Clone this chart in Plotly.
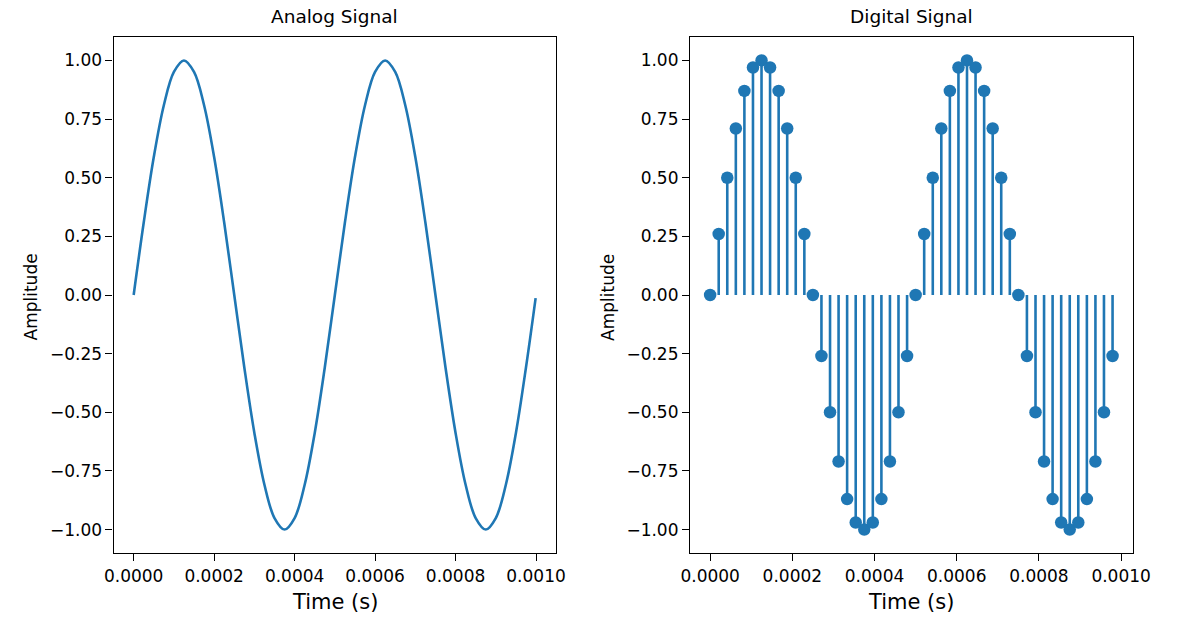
import plotly.graph_objects as go

# ---- data ----
analog_time = [0.0, 0.000025, 0.00005, 0.000075, 0.0001, 0.000125, 0.00015, 0.000175,
               0.0002, 0.000225, 0.00025, 0.000275, 0.0003, 0.000325, 0.00035, 0.000375,
               0.0004, 0.000425, 0.00045, 0.000475, 0.0005, 0.000525, 0.00055, 0.000575,
               0.0006, 0.000625, 0.00065, 0.000675, 0.0007, 0.000725, 0.00075, 0.000775,
               0.0008, 0.000825, 0.00085, 0.000875, 0.0009, 0.000925, 0.00095, 0.000975,
               0.000999]
analog_amp = [0.0, 0.309, 0.588, 0.809, 0.951, 1.0, 0.951, 0.809, 0.588, 0.309,
              0.0, -0.309, -0.588, -0.809, -0.951, -1.0, -0.951, -0.809, -0.588, -0.309,
              0.0, 0.309, 0.588, 0.809, 0.951, 1.0, 0.951, 0.809, 0.588, 0.309,
              0.0, -0.309, -0.588, -0.809, -0.951, -1.0, -0.951, -0.809, -0.588, -0.309,
              -0.013]

digital_time = [0.0, 2.083e-05, 4.167e-05, 6.25e-05, 8.333e-05, 0.0001042, 0.000125, 0.0001458,
                0.0001667, 0.0001875, 0.0002083, 0.0002292, 0.00025, 0.0002708, 0.0002917,
                0.0003125, 0.0003333, 0.0003542, 0.000375, 0.0003958, 0.0004167, 0.0004375,
                0.0004583, 0.0004792, 0.0005, 0.0005208, 0.0005417, 0.0005625, 0.0005833,
                0.0006042, 0.000625, 0.0006458, 0.0006667, 0.0006875, 0.0007083, 0.0007292,
                0.00075, 0.0007708, 0.0007917, 0.0008125, 0.0008333, 0.0008542, 0.000875,
                0.0008958, 0.0009167, 0.0009375, 0.0009583, 0.0009792]
digital_amp = [0.0, 0.26, 0.5, 0.71, 0.87, 0.97, 1.0, 0.97, 0.87, 0.71, 0.5, 0.26,
               0.0, -0.26, -0.5, -0.71, -0.87, -0.97, -1.0, -0.97, -0.87, -0.71, -0.5, -0.26,
               0.0, 0.26, 0.5, 0.71, 0.87, 0.97, 1.0, 0.97, 0.87, 0.71, 0.5, 0.26,
               0.0, -0.26, -0.5, -0.71, -0.87, -0.97, -1.0, -0.97, -0.87, -0.71, -0.5, -0.26]

y_tickvals = [1.0, 0.75, 0.5, 0.25, 0.0, -0.25, -0.5, -0.75, -1.0]
y_ticktext = ["1.00", "0.75", "0.50", "0.25", "0.00", "\u22120.25", "\u22120.50", "\u22120.75", "\u22121.00"]
x_tickvals = [0.0, 0.0002, 0.0004, 0.0006, 0.0008, 0.0010]
x_ticktext = ["0.0000", "0.0002", "0.0004", "0.0006", "0.0008", "0.0010"]

titles = ["Analog Signal", "Digital Signal"]
xlabel = "Time (s)"
ylabel = "Amplitude"

# ---- figure ----
W, H = 1177, 617
C0 = "#1f77b4"
FONT = "DejaVu Sans"


def px(x):
    return x / W


def py(y):
    return 1 - y / H


fig = go.Figure()

fig.add_trace(go.Scatter(x=analog_time, y=analog_amp, mode="lines",
                         line=dict(color=C0, width=2.6, shape="spline", smoothing=1.0),
                         xaxis="x", yaxis="y", showlegend=False, hoverinfo="skip"))

stem_x, stem_y = [], []
for t, v in zip(digital_time, digital_amp):
    stem_x += [t, t, None]
    stem_y += [0, v, None]
fig.add_trace(go.Scatter(x=stem_x, y=stem_y, mode="lines",
                         line=dict(color=C0, width=2.6),
                         xaxis="x2", yaxis="y2", showlegend=False, hoverinfo="skip"))
fig.add_trace(go.Scatter(x=digital_time, y=digital_amp, mode="markers",
                         marker=dict(color=C0, size=12.5, line=dict(width=0)),
                         xaxis="x2", yaxis="y2", showlegend=False))

dom_x1 = [px(107), px(560)]
dom_x2 = [px(697), px(1150)]
dom_y = [py(553), py(37)]

common = dict(showgrid=False, zeroline=False, showline=True, linecolor="black", linewidth=1.2,
              mirror=True, ticks="outside", ticklen=7, tickwidth=1.2, tickcolor="black",
              tickfont=dict(family=FONT, size=17, color="black"))

fig.update_layout(
    width=W, height=H, margin=dict(l=0, r=0, t=0, b=0),
    paper_bgcolor="white", plot_bgcolor="white",
    xaxis=dict(domain=dom_x1, range=[-0.00005, 0.00105], anchor="y",
               tickvals=x_tickvals, ticktext=x_ticktext, **common),
    yaxis=dict(domain=dom_y, range=[-1.1, 1.1], anchor="x",
               tickvals=y_tickvals, ticktext=y_ticktext, **common),
    xaxis2=dict(domain=dom_x2, range=[-0.000049, 0.001028], anchor="y2",
                tickvals=x_tickvals, ticktext=x_ticktext, **common),
    yaxis2=dict(domain=dom_y, range=[-1.1, 1.1], anchor="x2",
                tickvals=y_tickvals, ticktext=y_ticktext, **common),
)

ann = []
for left_px, t in zip([107, 697], titles):
    cx = px(left_px + 226.5)
    ann.append(dict(text=t, x=cx, y=py(17), xref="paper", yref="paper",
                    xanchor="center", yanchor="middle", showarrow=False,
                    font=dict(family=FONT, size=18.5, color="black")))
    ann.append(dict(text=xlabel, x=cx, y=py(602), xref="paper", yref="paper",
                    xanchor="center", yanchor="middle", showarrow=False,
                    font=dict(family=FONT, size=21, color="black")))
    ann.append(dict(text=ylabel, x=px(left_px - 84), y=py(297),
                    xref="paper", yref="paper", xanchor="center", yanchor="middle",
                    textangle=-90, showarrow=False,
                    font=dict(family=FONT, size=17, color="black")))
fig.update_layout(annotations=ann)

fig.write_html("out.html", config={"displayModeBar": False},
               post_script="document.body.style.margin='0';document.body.style.overflow='hidden';")
